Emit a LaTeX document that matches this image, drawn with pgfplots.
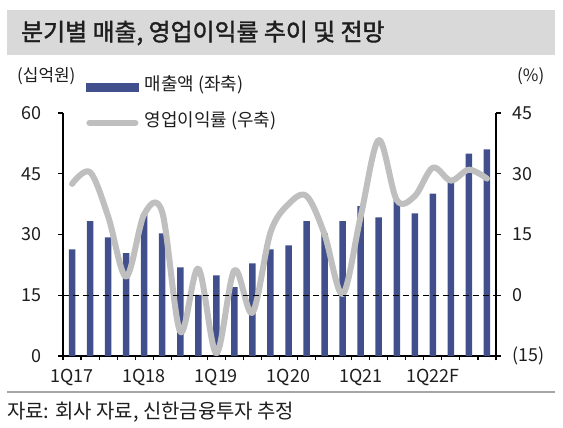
\documentclass[border=0pt]{standalone}
\usepackage{fontspec}
\setmainfont{Noto Sans CJK KR}
\newfontfamily\titlefont[FakeBold=1.6]{Noto Sans CJK KR}
\usepackage{pgfplots}
\pgfplotsset{compat=1.18}
\definecolor{barblue}{RGB}{65,80,140}
\definecolor{linegray}{RGB}{191,191,191}
\definecolor{bandgray}{RGB}{217,217,217}
\definecolor{sepgray}{RGB}{166,166,166}
\definecolor{txt}{RGB}{30,30,30}
\begin{document}
\begin{tikzpicture}
\useasboundingbox (0,0) rectangle (563bp,428bp);
\fill[white] (0,0) rectangle (563bp,428bp);
\fill[bandgray] (7bp,373bp) rectangle (555bp,418bp);
\node[anchor=west, inner sep=0pt, text=txt, font=\fontsize{24}{28}\titlefont] at (21bp,395bp) {분기별 매출, 영업이익률 추이 및 전망};
\node[anchor=west, inner sep=0pt, text=txt, font=\fontsize{17}{20}\selectfont] at (17bp,352bp) {(십억원)};
\node[anchor=west, inner sep=0pt, text=txt, font=\fontsize{17}{20}\selectfont] at (517bp,352bp) {(\%)};
\draw[sepgray, line width=2bp] (7bp,36bp) -- (555bp,36bp);
\node[anchor=west, inner sep=0pt, text=txt, font=\fontsize{20}{23}\selectfont] at (7bp,16bp) {자료: 회사 자료, 신한금융투자 추정};

\begin{axis}[
  at={(63bp,72bp)}, anchor=south west,
  scale only axis, width=433bp, height=243bp,
  xmin=0.5, xmax=24.5, ymin=0, ymax=60,
  axis x line*=bottom, axis y line*=left,
  axis line style={line width=1.3bp, black},
  tick align=outside,
  major tick length=4.5bp,
  tick style={black, line width=1.1bp},
  xtick={0.5,1.5,...,24.5}, xticklabels={},
  extra x ticks={1,5,9,13,17,21},
  extra x tick labels={1Q17,1Q18,1Q19,1Q20,1Q21,1Q22F},
  extra x tick style={major tick length=0pt, tick style={draw=none}},
  ytick={0,15,30,45,60},
  ticklabel style={font=\fontsize{18}{20}\selectfont, text=txt},
  /pgf/number format/assume math mode=true,
  yticklabel style={inner sep=0pt, anchor=east},
  yticklabel shift=17bp,
  xticklabel style={inner sep=0pt, anchor=north},
  xticklabel shift=13bp,
  clip=false,
]
\addplot[ybar, bar width=6.5bp, fill=barblue, draw=none] coordinates {
(1,26.3) (2,33.3) (3,29.3) (4,25.4) (5,35.1) (6,30.3) (7,21.9) (8,15.1)
(9,19.9) (10,17.0) (11,22.9) (12,26.3) (13,27.3) (14,33.3) (15,30.3) (16,33.3)
(17,37.0) (18,34.2) (19,38.5) (20,35.2) (21,40.1) (22,43.2) (23,50.0) (24,51.0)
};
\end{axis}

\begin{axis}[
  at={(63bp,72bp)}, anchor=south west,
  scale only axis, width=433bp, height=243bp,
  xmin=0.5, xmax=24.5, ymin=-15, ymax=45,
  axis x line=none, axis y line*=right,
  axis line style={line width=1.3bp, black},
  tick align=outside,
  major tick length=4.5bp,
  tick style={black, line width=1.1bp},
  ytick={-15,0,15,30,45},
  yticklabels={(15),0,15,30,45},
  ticklabel style={font=\fontsize{18}{20}\selectfont, text=txt},
  yticklabel style={inner sep=0pt, anchor=west},
  yticklabel shift=12bp,
  clip=false,
  legend style={at={(axis description cs:0.0531,1.033)}, anchor=west,
    draw=none, fill=none, inner sep=0pt, row sep=20bp,
    font=\fontsize{18}{21}\selectfont,
    nodes={inner sep=0pt, text height=12bp, text depth=4bp, text=txt},
    /tikz/every odd column/.append style={column sep=6bp}},
  legend cell align=left,
]
\addlegendimage{legend image code/.code={\fill[barblue] (0bp,-4bp) rectangle (52bp,4bp);}}
\addlegendentry{매출액 (좌축)}
\addplot[linegray, line width=6bp, smooth, tension=0.55, line cap=round, line join=round,
  legend image code/.code={\draw[linegray, line width=6bp, line cap=round] (3bp,0bp) -- (49bp,0bp);}] coordinates {
(1,27.5) (2,30.4) (3,19.5) (4,4.6) (5,20.0) (6,20.5) (7,-9.0) (8,6.6)
(9,-14.3) (10,6.2) (11,-4.3) (12,15.5) (13,22.5) (14,24.5) (15,15.0) (16,0.3)
(17,19.5) (18,38.3) (19,23.5) (20,24.5) (21,31.5) (22,28.3) (23,31.0) (24,28.8)
};
\addlegendentry{영업이익률 (우축)}
\addplot[black, line width=1.3bp, dash pattern=on 6bp off 4bp, forget plot] coordinates {(0.5,0) (24.5,0)};
\end{axis}
\end{tikzpicture}
\end{document}
